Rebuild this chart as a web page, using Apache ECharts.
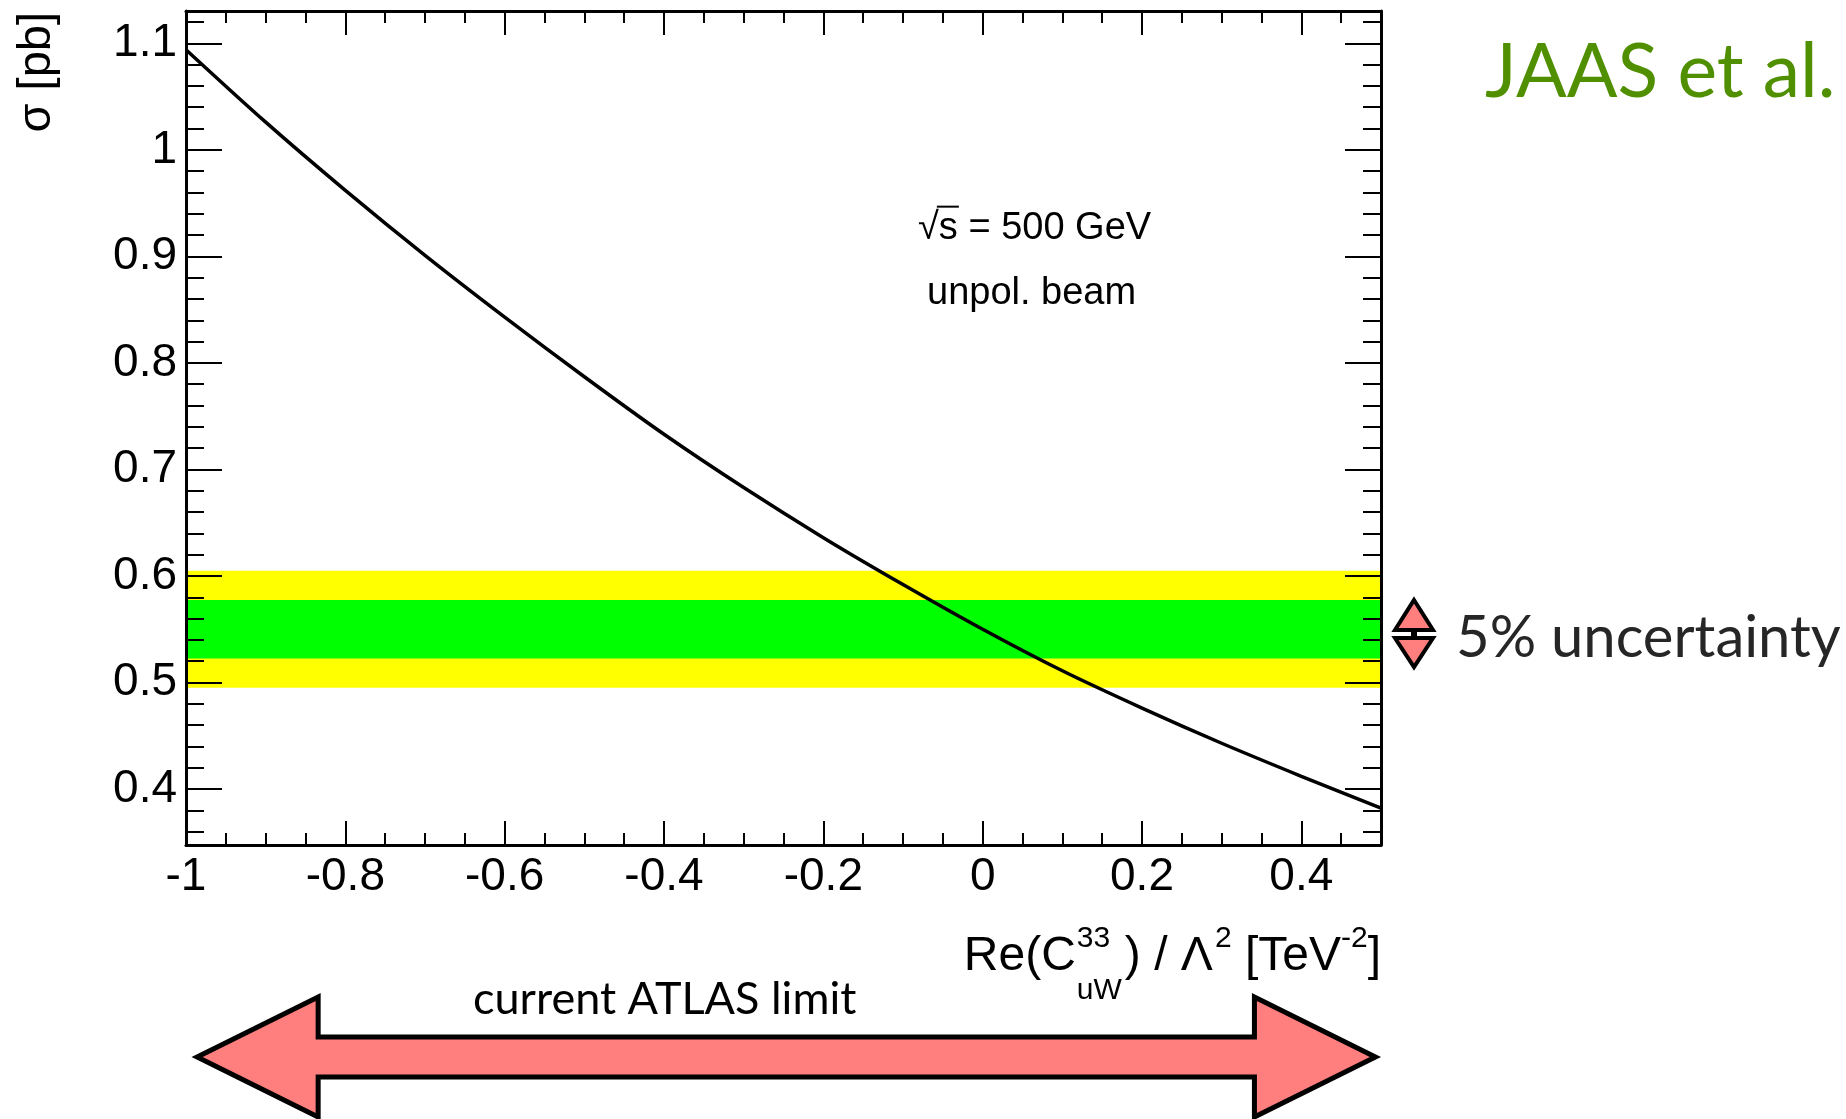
<!DOCTYPE html>
<html><head><meta charset="utf-8">
<script src="https://cdn.jsdelivr.net/npm/echarts@6/dist/echarts.min.js"></script>
<style>html,body{margin:0;padding:0;background:#fff}#c{width:1846px;height:1119px}</style>
</head><body><div id="c"></div>
<script>
// ---- data ----
const xValues = [-1.0,-0.9,-0.8,-0.7,-0.6,-0.5,-0.4,-0.3,-0.2,-0.1,0.0,0.1,0.2,0.3,0.4,0.5];
const sigmaValues = [1.094,1.026,0.962,0.901,0.843,0.787,0.733,0.683,0.636,0.592,0.550,0.511,0.476,0.443,0.412,0.382];
const outerBand = [0.495, 0.605];     // yellow
const innerBand = [0.5225, 0.5775];   // green
const xRange = [-1, 0.5];
const yRange = [0.3475, 1.1303];
const xMajorTicks = [-1,-0.8,-0.6,-0.4,-0.2,0,0.2,0.4];
const xMinorTicks = [-0.95,-0.9,-0.85,-0.75,-0.7,-0.65,-0.55,-0.5,-0.45,-0.35,-0.3,-0.25,-0.15,-0.1,-0.05,0.05,0.1,0.15,0.25,0.3,0.35,0.45];
const yMajorTicks = [0.4,0.5,0.6,0.7,0.8,0.9,1,1.1];
const yMinorTicks = [0.36,0.38,0.42,0.44,0.46,0.48,0.52,0.54,0.56,0.58,0.62,0.64,0.66,0.68,0.72,0.74,0.76,0.78,0.82,0.84,0.86,0.88,0.92,0.94,0.96,0.98,1.02,1.04,1.06,1.08,1.12];
const atlasLimit = [-0.986, 0.493];

const HELV = '"Liberation Sans", Arial, Helvetica, sans-serif';
const GILL = 'Lato, "Open Sans", sans-serif';

const chart = echarts.init(document.getElementById('c'), null, {renderer: 'canvas'});

function mkAxis(isX, pos, major, showLabel, showLine) {
  return {
    type: 'value', position: pos,
    min: isX ? xRange[0] : yRange[0], max: isX ? xRange[1] : yRange[1],
    z: 10,
    axisLine: { show: showLine, onZero: false, lineStyle: { color: '#000', width: 3 } },
    axisTick: {
      show: true, inside: true,
      length: isX ? (major ? 24 : 12) : (major ? 36 : 18),
      customValues: major ? (isX ? xMajorTicks : yMajorTicks) : (isX ? xMinorTicks : yMinorTicks),
      lineStyle: { color: '#000', width: 2 }
    },
    axisLabel: showLabel ? {
      show: true, customValues: isX ? xMajorTicks : yMajorTicks,
      fontSize: 46, fontFamily: HELV, color: '#000',
      margin: isX ? 9 : 9,
      padding: isX ? 0 : [6, 0, 0, 0],
      formatter: v => String(Number(v.toFixed(3)))
    } : { show: false },
    splitLine: { show: false }, minorTick: { show: false }, minorSplitLine: { show: false }
  };
}

const option = {
  animation: false,
  backgroundColor: '#fff',
  grid: { left: 186, right: 465, top: 11, bottom: 274, containLabel: false, outerBoundsMode: 'none' },
  xAxis: [
    mkAxis(true, 'bottom', true, true, true),
    mkAxis(true, 'bottom', false, false, false),
    mkAxis(true, 'top', true, false, true),
    mkAxis(true, 'top', false, false, false)
  ],
  yAxis: [
    mkAxis(false, 'left', true, true, true),
    mkAxis(false, 'left', false, false, false),
    mkAxis(false, 'right', true, false, true),
    mkAxis(false, 'right', false, false, false)
  ],
  series: [
    {
      type: 'line', xAxisIndex: 0, yAxisIndex: 0, z: 1, silent: true,
      data: xValues.map((x, i) => [x, sigmaValues[i]]),
      showSymbol: false, symbol: 'none', lineStyle: { opacity: 0 },
      markArea: {
        silent: true,
        data: [
          [{ yAxis: outerBand[0], itemStyle: { color: '#ffff00' } }, { yAxis: outerBand[1] }],
          [{ yAxis: innerBand[0], itemStyle: { color: '#00ff00' } }, { yAxis: innerBand[1] }]
        ]
      }
    },
    {
      type: 'line', xAxisIndex: 0, yAxisIndex: 0, z: 3,
      data: xValues.map((x, i) => [x, sigmaValues[i]]),
      smooth: 0.3, symbol: 'none', showSymbol: false,
      lineStyle: { color: '#000', width: 3.5 }
    }
  ]
};
chart.setOption(option);

// ---- annotations ----
const ctx = document.createElement('canvas').getContext('2d');
function tw(text, size, fam) { ctx.font = size + 'px ' + fam; return ctx.measureText(text).width; }
const MID_H = 0.3465; // baseline -> middle (Liberation Sans)
const MID_G = 0.305;  // baseline -> middle (Lato)
function txt(text, x, baseline, size, fam, fill, align, mid) {
  return { type: 'text', x: x, y: baseline - mid * size, z: 100,
    style: { text: text, fontSize: size, fontFamily: fam, fill: fill, align: align || 'left', verticalAlign: 'middle' } };
}

const g = [];
// y axis title
g.push({ type: 'text', x: 53 - MID_H * 46, y: 12, rotation: Math.PI / 2, z: 100,
  style: { text: 'σ [pb]', fontSize: 47, fontFamily: HELV, fill: '#000', align: 'right', verticalAlign: 'middle' } });

// x axis title: Re(C^{33}_{uW}) / Λ^{2} [TeV^{-2}]
(function () {
  const M = 48, S = 30, base = 973, supB = 949, subB = 1001;
  const pieces = [];
  let w = 0;
  const a = tw('Re(C', M, HELV); pieces.push(['Re(C', w, base, M]); w += a + 1;
  const w33 = tw('33', S, HELV), wuW = tw('uW', S, HELV);
  pieces.push(['33', w, supB, S]); pieces.push(['uW', w, subB, S]); w += Math.max(w33, wuW) + 3;
  pieces.push([') / Λ', w, base, M]); w += tw(') / Λ', M, HELV);
  pieces.push(['2', w + 2, supB, S]); w += tw('2', S, HELV) + 2;
  pieces.push([' [TeV', w, base, M]); w += tw(' [TeV', M, HELV);
  pieces.push(['-2', w, supB, S]); w += tw('-2', S, HELV);
  pieces.push([']', w, base, M]); w += tw(']', M, HELV);
  const x0 = 1381 - w;
  pieces.forEach(p => g.push(txt(p[0], x0 + p[1], p[2], p[3], HELV, '#000', 'left', MID_H)));
})();

// sqrt(s) = 500 GeV
(function () {
  const F = 38, x0 = 918, b = 242;
  const wr = tw('√', F, HELV), ws = tw('s', F, HELV);
  g.push(txt('√s = 500 GeV', x0, b, F, HELV, '#000', 'left', MID_H));
  g.push({ type: 'line', z: 100, shape: { x1: x0 + wr - 2, y1: b - 0.93 * F, x2: x0 + wr + ws + 1, y2: b - 0.93 * F },
    style: { stroke: '#000', lineWidth: 2 } });
  g.push(txt('unpol. beam', 927, 307, F, HELV, '#000', 'left', MID_H));
})();

// JAAS et al.
g.push(txt('JAAS et al.', 1485, 96, 75, GILL, '#4f8f00', 'left', MID_G));
// 5% uncertainty
g.push(txt('5% uncertainty', 1456, 656, 58, GILL, '#262626', 'left', MID_G));
// double triangle icon
g.push({ type: 'rect', z: 99, shape: { x: 1411, y: 628, width: 6, height: 11 }, style: { fill: '#000' } });
g.push({ type: 'polygon', z: 100, shape: { points: [[1414, 600], [1433, 630], [1395, 630]] },
  style: { fill: '#ff7f7f', stroke: '#000', lineWidth: 4, lineJoin: 'miter' } });
g.push({ type: 'polygon', z: 100, shape: { points: [[1395, 638], [1433, 638], [1414, 667]] },
  style: { fill: '#ff7f7f', stroke: '#000', lineWidth: 4, lineJoin: 'miter' } });

// ATLAS limit arrow
(function () {
  const L = chart.convertToPixel({ xAxisIndex: 0 }, atlasLimit[0]);
  const R = chart.convertToPixel({ xAxisIndex: 0 }, atlasLimit[1]);
  const cy = 1057, hh = 60, sh = 20, hl = 121;
  g.push({ type: 'polygon', z: 100, shape: { points: [
    [L, cy], [L + hl, cy - hh], [L + hl, cy - sh], [R - hl, cy - sh], [R - hl, cy - hh],
    [R, cy], [R - hl, cy + hh], [R - hl, cy + sh], [L + hl, cy + sh], [L + hl, cy + hh]
  ] }, style: { fill: '#ff7f7f', stroke: '#000', lineWidth: 5, lineJoin: 'miter' } });
  g.push(txt('current ATLAS limit', 473, 1013, 45, GILL, '#000', 'left', MID_G));
})();

chart.setOption({ graphic: { elements: g } });
</script>
</body></html>
